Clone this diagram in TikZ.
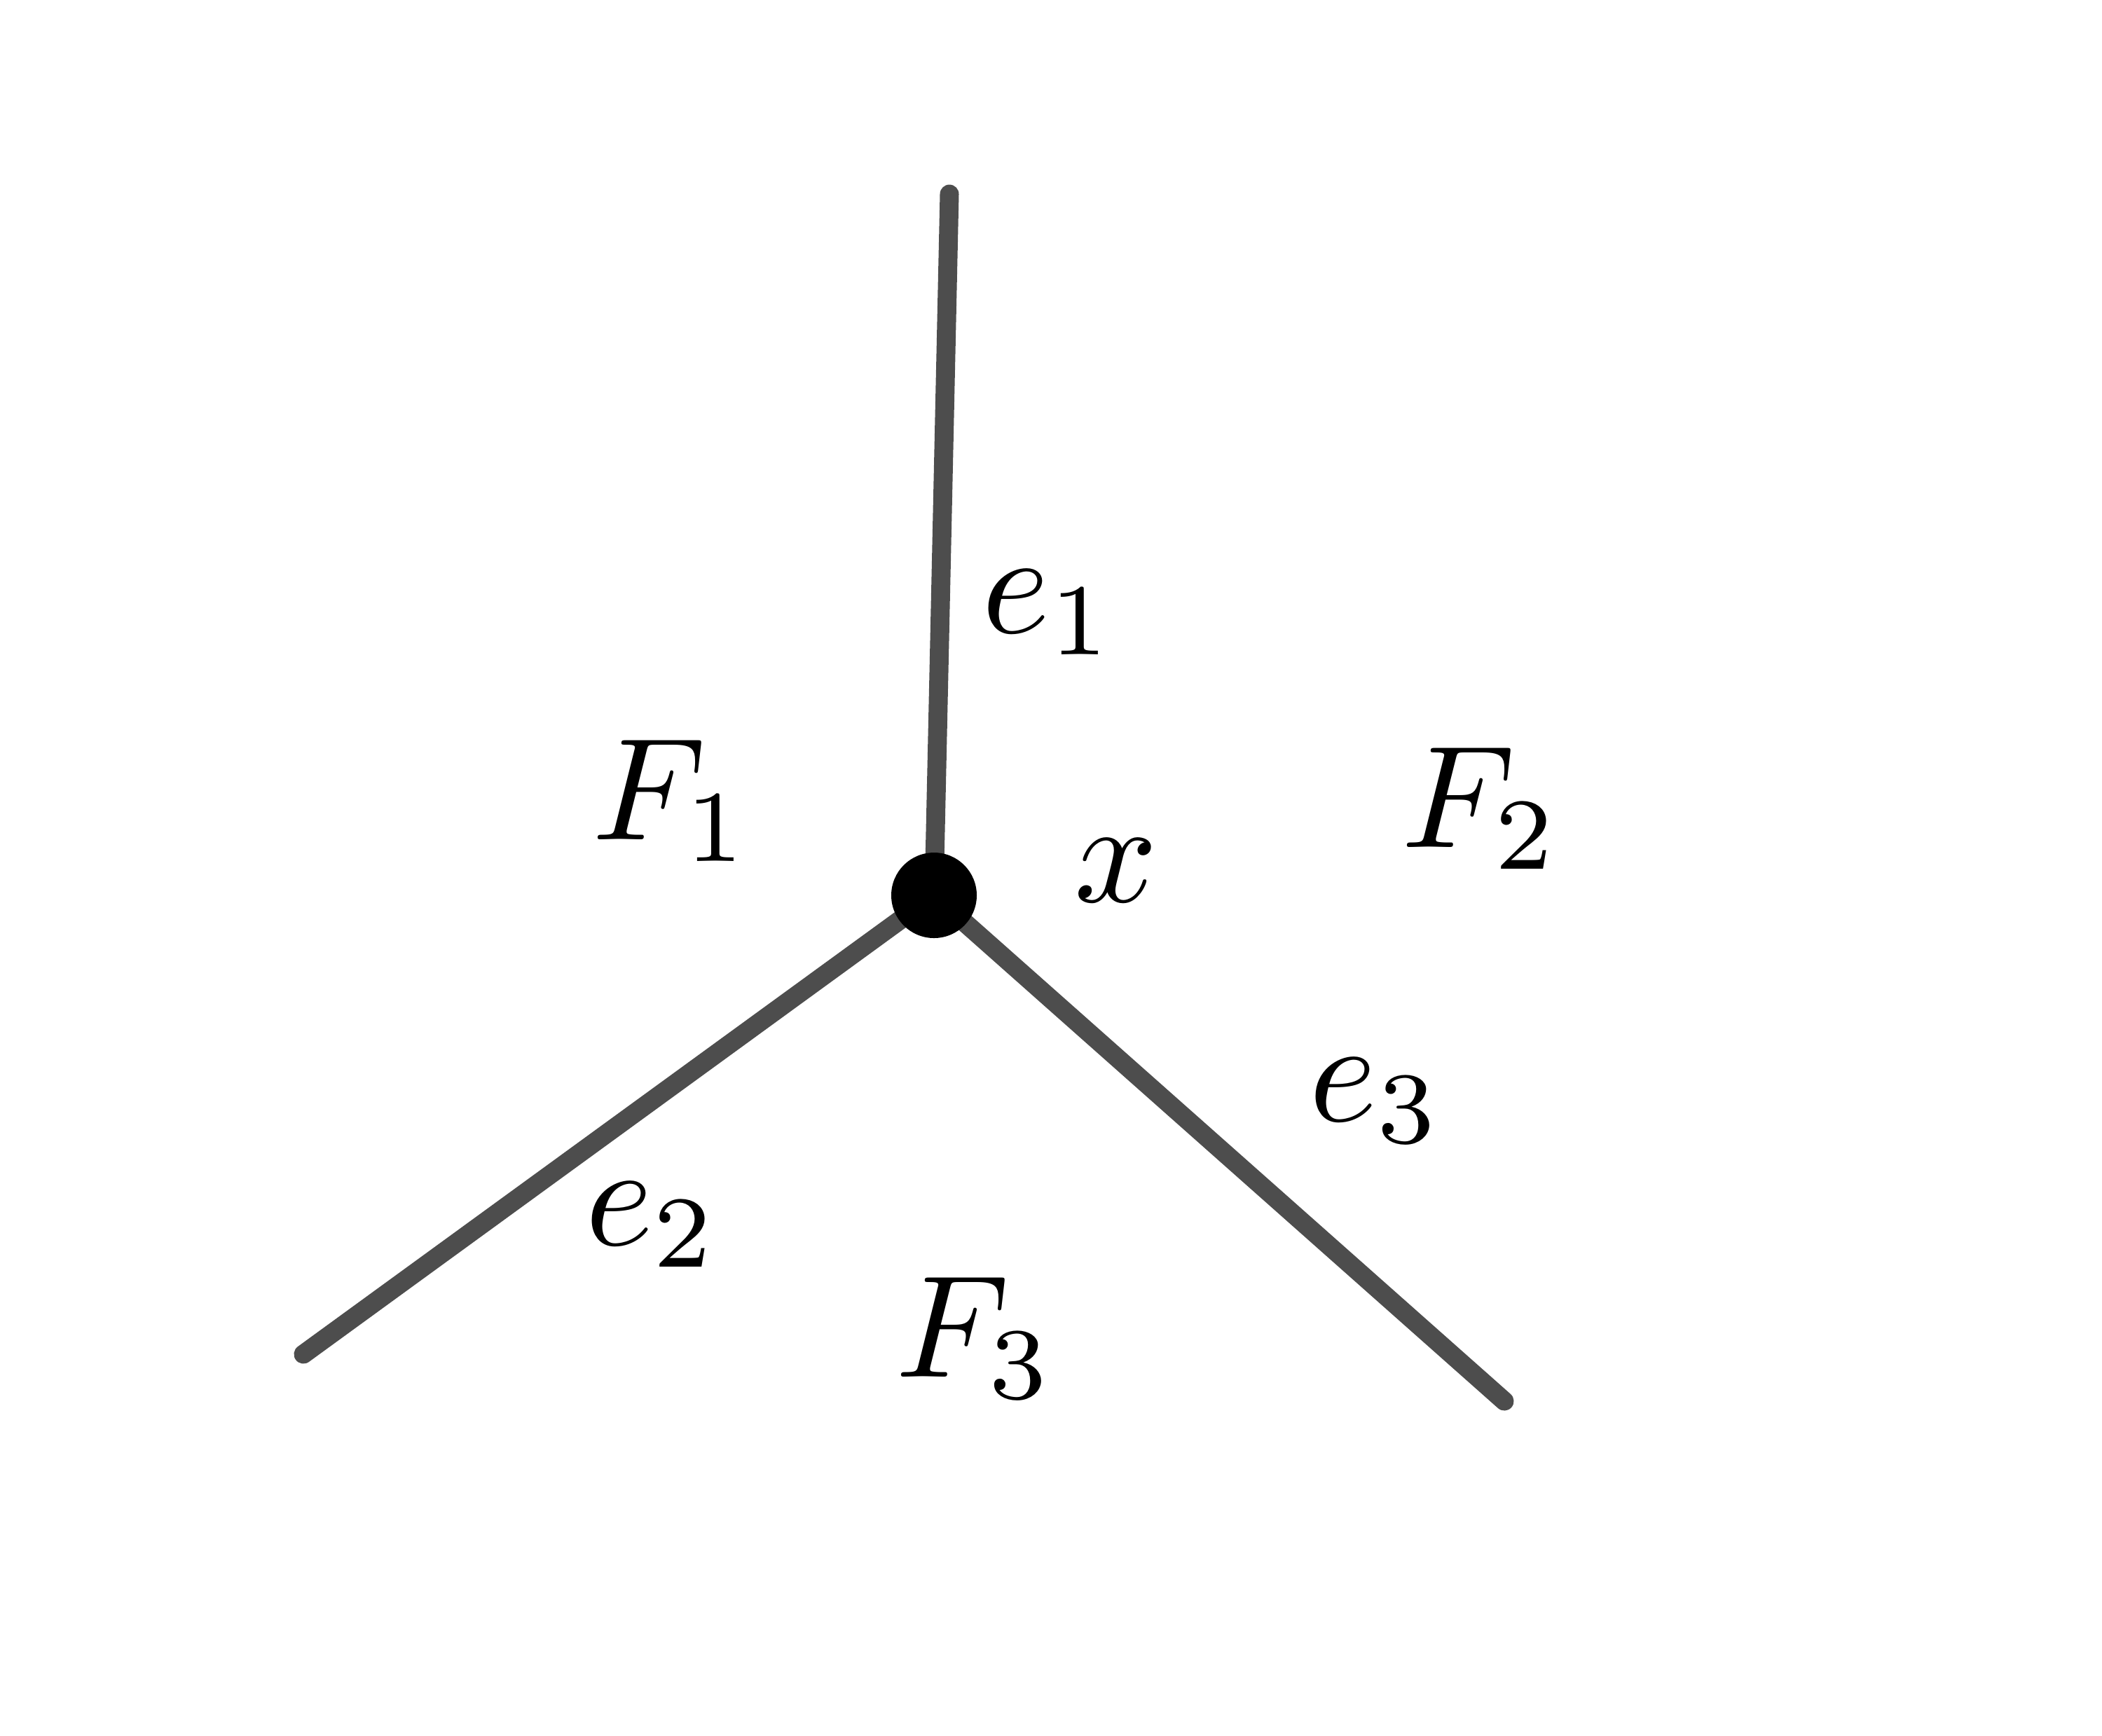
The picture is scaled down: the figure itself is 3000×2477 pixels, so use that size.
\documentclass[tikz,border=0pt]{standalone}
\definecolor{edgegray}{HTML}{4D4D4D}
\tikzset{
  edge/.style={draw=edgegray, line width=6.75pt, line cap=round},
  vertexdot/.style={circle, fill=black, inner sep=0pt, minimum size=30.5pt},
  lbl/.style={anchor=base west, inner sep=0pt, scale=5.2}
}
\begin{document}
\begin{tikzpicture}[x=0.25pt,y=-0.25pt]
\useasboundingbox (0,0) rectangle (3000,2477);
\coordinate (c) at (1333,1278);
\coordinate (t) at (1355,277);
\coordinate (l) at (433,1933);
\coordinate (r) at (2147,2000);
\draw[edge] (c) -- (t);
\draw[edge] (c) -- (l);
\draw[edge] (c) -- (r);
\node[vertexdot] (v) at (c) {};
\node[lbl] (le1) at (1397,903) {$e_1$};
\node[lbl] (lF1) at (841,1198) {$F_1$};
\node[lbl] (lx) at (1529,1287) {$x$};
\node[lbl] (lF2) at (1996,1209) {$F_2$};
\node[lbl] (le3) at (1864,1600) {$e_3$};
\node[lbl] (le2) at (831,1777) {$e_2$};
\node[lbl] (lF3) at (1274,1965) {$F_3$};
\end{tikzpicture}
\end{document}
